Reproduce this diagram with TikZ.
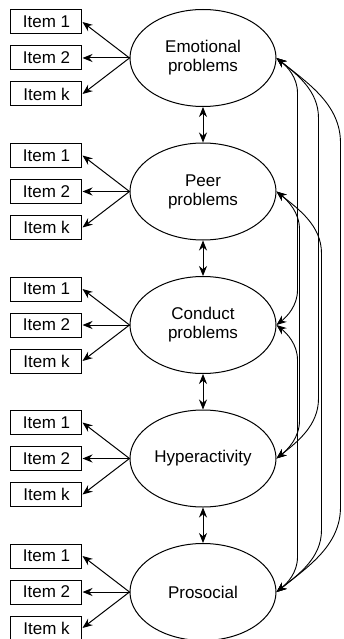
\documentclass[tikz,border=0pt]{standalone}
\usepackage{fontspec}
\setmainfont{Liberation Sans}
\usepackage{tikz}
\usetikzlibrary{arrows.meta,positioning,calc,shapes.geometric}

% covariance curve on the right: from, to, reach, bend
\newcommand{\covcurve}[4]{%
  \draw[cov] (#1.east) .. controls +({0.5*#3pt},{-0.4*#3pt}) and +(0pt,{0.45*#4pt}) .. ($(#1.east)+(#3pt,-#4pt)$)
    -- ($(#2.east)+(#3pt,#4pt)$)
    .. controls +(0pt,{-0.45*#4pt}) and +({0.5*#3pt},{0.4*#3pt}) .. (#2.east);}

\begin{document}
\begin{tikzpicture}[
      font=\fontsize{17}{19}\selectfont,
      >={Stealth[length=10pt,width=8pt]},
      latent/.style={
          ellipse, draw, line width=1pt,
          align=center,
          minimum width=146pt,
          minimum height=97pt,
          inner sep=0pt
        },
      item/.style={rectangle, draw, line width=1pt, minimum width=71pt, minimum height=24pt, inner sep=0pt},
      load/.style={draw, ->, line width=1pt},
      cov/.style={draw, <->, line width=0.9pt},
    ]
    \useasboundingbox (-203pt,58pt) rectangle (140pt,-581pt);

    \node[latent] (emo) {Emotional\\problems};
    \node[latent, below=35.5pt of emo] (peer) {Peer\\problems};
    \node[latent, below=35.5pt of peer] (cond) {Conduct\\problems};
    \node[latent, below=35.5pt of cond] (hyp) {Hyperactivity};
    \node[latent, below=35.5pt of hyp] (pro) {Prosocial};

    % indicators
    \foreach \f in {emo,peer,cond,hyp,pro} {
        \node[item, left=47pt of \f] (\f-2) {Item 2};
        \node[item, above=11pt of \f-2] (\f-1) {Item 1};
        \node[item, below=11pt of \f-2] (\f-k) {Item k};
        \draw[load] (\f.west) -- (\f-1.east);
        \draw[load] (\f.west) -- (\f-2.east);
        \draw[load] (\f.west) -- (\f-k.east);
      }

    % neighbouring factors
    \draw[cov] (emo.south) -- (peer.north);
    \draw[cov] (peer.south) -- (cond.north);
    \draw[cov] (cond.south) -- (hyp.north);
    \draw[cov] (hyp.south) -- (pro.north);

    \covcurve{emo}{cond}{21}{35}
    \covcurve{emo}{hyp}{42}{60}
    \covcurve{emo}{pro}{64}{85}
    \covcurve{peer}{hyp}{23}{38}
    \covcurve{peer}{pro}{45}{62}
    \covcurve{cond}{pro}{21}{35}
  \end{tikzpicture}
\end{document}
